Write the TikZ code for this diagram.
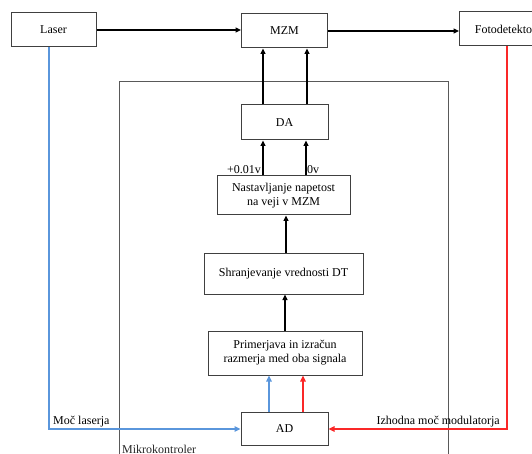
\documentclass[tikz,border=0pt]{standalone}
\usepackage{fontspec}
\setmainfont{Liberation Serif}
\usetikzlibrary{arrows.meta}
\begin{document}
\begin{tikzpicture}[x=1pt,y=-1pt,
  box/.style={draw=black!75,line width=1pt,inner sep=0pt,align=center,font=\fontsize{12}{14}\selectfont},
  arr/.style={line width=1.3pt,-{Triangle[length=5.5pt,width=5pt]}},
  carr/.style={line width=1.3pt,-{Triangle[length=6pt,width=5.5pt]}},
  lbl/.style={inner sep=1pt,font=\fontsize{12}{14}\selectfont}]
\definecolor{bl}{RGB}{90,150,220}
\definecolor{rd}{RGB}{250,40,40}
\useasboundingbox (0,0) rectangle (532,454);
\begin{scope}
\clip (0,0) rectangle (532,454);
% microcontroller frame
\node[draw=black!65,line width=1pt,minimum width=329pt,minimum height=390pt,inner sep=0pt] (mk) at (283.5,277) {};
\node[lbl,anchor=north west,text=black!85] (mkl) at (121,444) {Mikrokontroler};
% boxes
\node[box,minimum width=85pt,minimum height=34pt] (laser) at (53.5,30) {Laser};
\node[box,minimum width=86pt,minimum height=34pt] (mzm) at (284.5,31) {MZM};
\node[box,minimum width=92pt,minimum height=34pt,anchor=west] (foto) at (459,29) {\hspace{12pt}Fotodetektor\hspace{12pt}};
\node[box,minimum width=87pt,minimum height=35pt] (da) at (284.5,122.5) {DA};
\node[box,minimum width=133pt,minimum height=39pt] (nast) at (283.5,195.5) {Nastavljanje napetost\\na veji v MZM};
\node[box,minimum width=159pt,minimum height=41pt] (shr) at (283.5,273.5) {Shranjevanje vrednosti DT};
\node[box,minimum width=154pt,minimum height=44pt] (prim) at (285,353) {Primerjava in izračun\\razmerja med oba signala};
\node[box,minimum width=87pt,minimum height=33pt] (ad) at (284.5,428.5) {AD};
% black arrows
\draw[arr] (laser.east) -- (laser.east -| mzm.west);
\draw[arr] (mzm.east) -- (foto.west |- mzm.east);
\draw[arr] (da.north -| 263,0) -- (mzm.south -| 263,0);
\draw[arr] (da.north -| 307,0) -- (mzm.south -| 307,0);
\draw[arr] (nast.north -| 263,0) -- (da.south -| 263,0);
\draw[arr] (nast.north -| 306,0) -- (da.south -| 306,0);
\draw[arr] (shr.north -| 286,0) -- (nast.south -| 286,0);
\draw[arr] (prim.north -| 285,0) -- (shr.south -| 285,0);
\node[lbl,anchor=south east] (v1) at (262,174.5) {+0.01v};
\node[lbl,anchor=south west] (v2) at (306,174.5) {0v};
% blue path
\coordinate (bc) at (49,429);
\draw[carr,bl] (laser.south -| bc) -- (bc) -- (ad.west |- bc);
\node[lbl,anchor=south west] (ml) at (52,428) {Moč laserja};
\draw[carr,bl] (ad.north -| 269,0) -- (prim.south -| 269,0);
% red path
\coordinate (rc) at (507,429);
\draw[carr,rd] (foto.south -| rc) -- (rc) -- (ad.east |- rc);
\node[lbl,anchor=south east] (il) at (501,428) {Izhodna moč modulatorja};
\draw[carr,rd] (ad.north -| 303,0) -- (prim.south -| 303,0);
\end{scope}
\end{tikzpicture}
\end{document}
